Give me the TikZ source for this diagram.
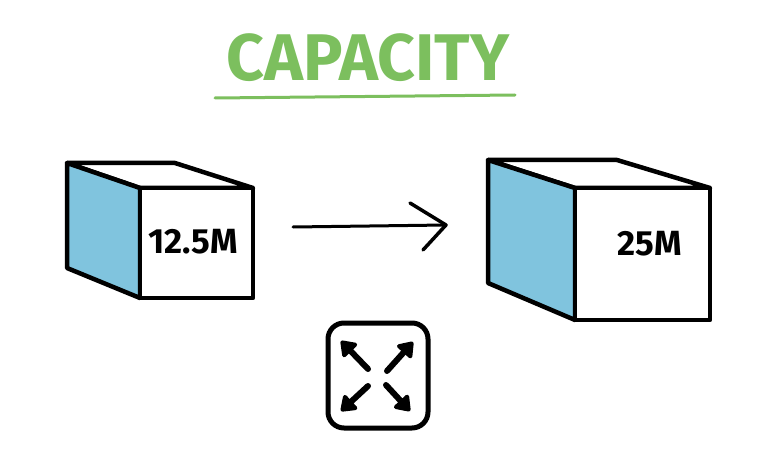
\documentclass[tikz,border=0pt]{standalone}
\usepackage{fontspec}
\setmainfont{Fira Sans}
\usetikzlibrary{arrows.meta}
\definecolor{titlegreen}{HTML}{7CBF5E}
\definecolor{faceblue}{HTML}{80C4DE}
\tikzset{
  edge/.style={line width=4.5pt, line join=round, line cap=round, draw=black},
  sideface/.style={edge, fill=faceblue},
  plainface/.style={edge, fill=white},
  label/.style={font=\fontsize{35}{35}\selectfont\bfseries, inner sep=0pt},
  iconline/.style={line width=6pt, line cap=round, -{Triangle[length=16pt,width=22pt,round]}},
}
\begin{document}
\begin{tikzpicture}[x=1pt,y=-1pt]
\useasboundingbox (0,0) rectangle (768,465);
% title
\node[text=titlegreen, font=\fontsize{66}{66}\selectfont\bfseries, inner sep=0pt] (title) at (368,58) {CAPACITY};
\coordinate (ul1) at (215,98);
\coordinate (ul2) at (515,95);
\draw[titlegreen, line width=3pt, line cap=round] (ul1) -- (ul2);
% left cube
\draw[plainface] (67,163) -- (175,163) -- (253,188) -- (140,188) -- cycle;
\draw[sideface] (67,163) -- (140,188) -- (140,298) -- (67,268) -- cycle;
\draw[plainface] (140,188) rectangle (253,298);
\node[label] (small) at (193,242) {12.5M};
% right cube
\draw[plainface] (488,160) -- (617,160) -- (710,188) -- (575,188) -- cycle;
\draw[sideface] (488,160) -- (575,188) -- (575,320) -- (488,283) -- cycle;
\draw[plainface] (575,188) rectangle (710,320);
\node[label] (big) at (650,244) {25M};
% arrow
\coordinate (a1) at (293,227);
\coordinate (a2) at (446,225);
\coordinate (h1) at (410,203);
\coordinate (h2) at (423,250);
\draw[line width=3pt, line cap=round, line join=round] (a1) -- (a2);
\draw[line width=3.5pt, line cap=round, line join=round] (h1) -- (a2) -- (h2);
% icon
\node[draw, line width=5pt, rounded corners=16pt, minimum width=100pt, minimum height=105pt, inner sep=0pt] (icon) at (378,375.5) {};
\coordinate (c1) at (368,369);
\coordinate (t1) at (341,341);
\coordinate (c2) at (387,371);
\coordinate (t2) at (413,342);
\coordinate (c3) at (368,386);
\coordinate (t3) at (341,411);
\coordinate (c4) at (386,385);
\coordinate (t4) at (410,411);
\draw[iconline] (c1) -- (t1);
\draw[iconline] (c2) -- (t2);
\draw[iconline] (c3) -- (t3);
\draw[iconline] (c4) -- (t4);
\end{tikzpicture}
\end{document}
